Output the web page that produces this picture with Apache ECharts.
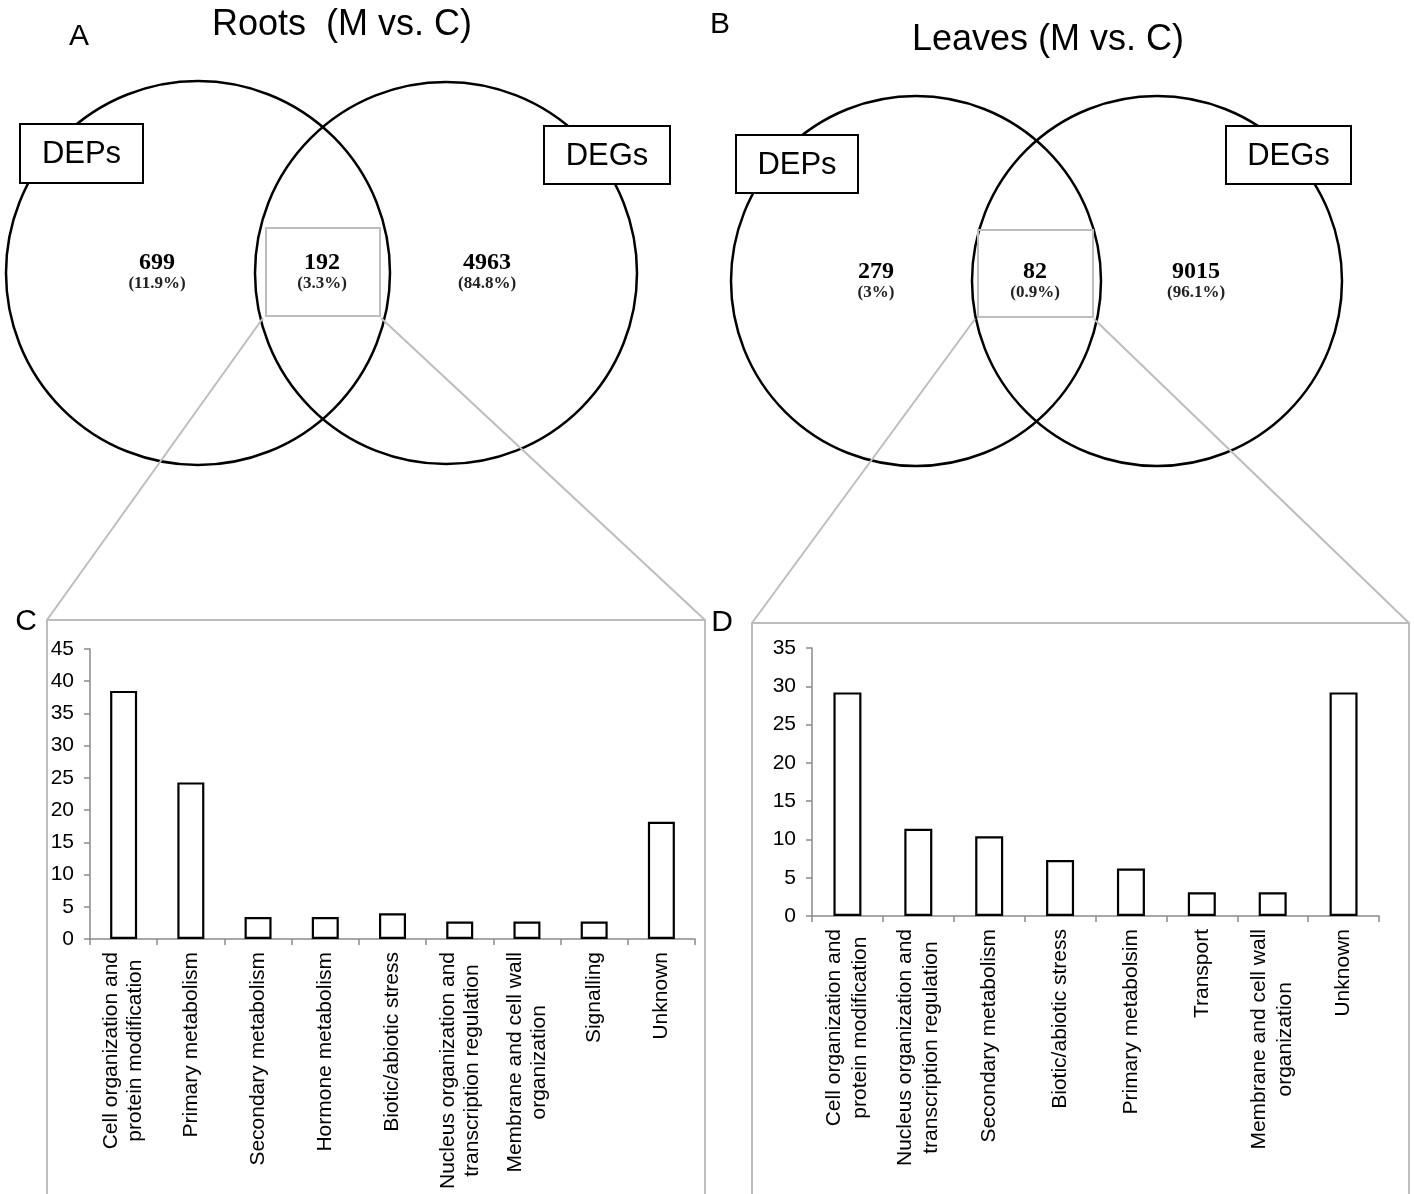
<!DOCTYPE html>
<html>
<head>
<meta charset="utf-8">
<title>Roots and Leaves (M vs. C): DEPs / DEGs overlap</title>
<script src="https://cdn.jsdelivr.net/npm/echarts@6/dist/echarts.min.js"></script>
<style>
  html, body { margin: 0; padding: 0; background: #fff; }
  #chart { width: 1414px; height: 1194px; }
</style>
</head>
<body>
<div id="chart"></div>
<script>
// ---- Data ----
const rootsTitle = 'Roots  (M vs. C)';
const leavesTitle = 'Leaves (M vs. C)';
const setNames = ['DEPs', 'DEGs'];

// Venn counts: [DEPs only, shared, DEGs only]
const rootsVennCounts = [699, 192, 4963];
const rootsVennPercents = ['(11.9%)', '(3.3%)', '(84.8%)'];
const leavesVennCounts = [279, 82, 9015];
const leavesVennPercents = ['(3%)', '(0.9%)', '(96.1%)'];

// Functional categories of the shared genes/proteins (%)
const rootsCategories = [
  'Cell organization and\nprotein modification',
  'Primary metabolism',
  'Secondary metabolism',
  'Hormone metabolism',
  'Biotic/abiotic stress',
  'Nucleus organization and\ntranscription regulation',
  'Membrane and cell wall\norganization',
  'Signalling',
  'Unknown'
];
const rootsValues = [38.5, 24.3, 3.4, 3.4, 4.0, 2.7, 2.7, 2.7, 18.2];

const leavesCategories = [
  'Cell organization and\nprotein modification',
  'Nucleus organization and\ntranscription regulation',
  'Secondary metabolism',
  'Biotic/abiotic stress',
  'Primary metabolsim',
  'Transport',
  'Membrane and cell wall\norganization',
  'Unknown'
];
const leavesValues = [29.2, 11.4, 10.4, 7.3, 6.2, 3.1, 3.1, 29.2];

const rootsAxisMax = 45;
const leavesAxisMax = 35;
const axisStep = 5;

// ---- Styling ----
const SANS = '"Liberation Sans", Arial, sans-serif';
const SERIF = '"Liberation Serif", "Times New Roman", serif';
const AXIS_GREY = '#8a8a8a';
const ZOOM_GREY = '#bdbdbd';

function centeredLines(v) {
  return v.split('\n').map(s => '{c|' + s + '}').join('\n');
}

function categoryAxis(gridIndex, cats, lineH) {
  return {
    type: 'category', gridIndex: gridIndex, data: cats,
    axisLine: { lineStyle: { color: AXIS_GREY, width: 1.5 } },
    axisTick: { show: true, alignWithLabel: false, length: 6, lineStyle: { color: AXIS_GREY, width: 1.5 } },
    axisLabel: {
      interval: 0, rotate: 90, margin: 13, color: '#000',
      fontFamily: SANS, fontSize: 21,
      formatter: centeredLines,
      rich: { c: { align: 'center', fontFamily: SANS, fontSize: 21, lineHeight: lineH, color: '#000' } }
    },
    splitLine: { show: false }
  };
}

function valueAxis(gridIndex, max) {
  return {
    type: 'value', gridIndex: gridIndex, min: 0, max: max, interval: axisStep,
    axisLine: { show: true, lineStyle: { color: AXIS_GREY, width: 1.5 } },
    axisTick: { show: true, length: 6, lineStyle: { color: AXIS_GREY, width: 1.5 } },
    axisLabel: { color: '#000', fontFamily: SANS, fontSize: 21, margin: 16 },
    splitLine: { show: false }
  };
}

function barSeries(axisIndex, values, width) {
  return {
    type: 'bar', xAxisIndex: axisIndex, yAxisIndex: axisIndex, data: values,
    barWidth: width, silent: true,
    itemStyle: { color: '#fff', borderColor: '#000', borderWidth: 2.2 }
  };
}

// ---- Venn diagram pieces ----
function venn(cfg) {
  const els = [];
  // set circles
  cfg.circles.forEach(c => {
    els.push({ type: 'circle', z: 1, shape: { cx: c[0], cy: c[1], r: c[2] },
      style: { fill: 'none', stroke: '#000', lineWidth: 2.5 } });
  });
  // box around the shared region and the lines leading to the bar panel
  const b = cfg.box;
  els.push({ type: 'rect', z: 2, shape: { x: b[0], y: b[1], width: b[2] - b[0], height: b[3] - b[1] },
    style: { fill: 'none', stroke: ZOOM_GREY, lineWidth: 2 } });
  const f = cfg.frame;
  els.push({ type: 'line', z: 2, shape: { x1: b[0] - 3, y1: b[3] + 2, x2: f[0], y2: f[1] },
    style: { stroke: ZOOM_GREY, lineWidth: 2 } });
  els.push({ type: 'line', z: 2, shape: { x1: b[2] + 1, y1: b[3] + 2, x2: f[2], y2: f[1] },
    style: { stroke: ZOOM_GREY, lineWidth: 2 } });
  els.push({ type: 'rect', z: 0, shape: { x: f[0], y: f[1], width: f[2] - f[0], height: 700 },
    style: { fill: 'none', stroke: ZOOM_GREY, lineWidth: 2 } });
  // set name boxes
  cfg.nameBoxes.forEach((r, i) => {
    els.push({ type: 'rect', z: 3, shape: { x: r[0], y: r[1], width: r[2] - r[0], height: r[3] - r[1] },
      style: { fill: '#fff', stroke: '#000', lineWidth: 2 } });
    els.push({ type: 'text', z: 4, x: (r[0] + r[2]) / 2, y: (r[1] + r[3]) / 2 + 1,
      style: { text: setNames[i], font: '31px ' + SANS, fill: '#000', align: 'center', verticalAlign: 'middle' } });
  });
  // region counts and percentages
  cfg.countX.forEach((x, i) => {
    els.push({ type: 'text', z: 4, x: x, y: cfg.countY,
      style: { text: String(cfg.counts[i]), font: 'bold 24px ' + SERIF, fill: '#000', align: 'center', verticalAlign: 'middle' } });
    els.push({ type: 'text', z: 4, x: x, y: cfg.countY + 21,
      style: { text: cfg.percents[i], font: 'bold 17px ' + SERIF, fill: '#222', align: 'center', verticalAlign: 'middle' } });
  });
  // title
  els.push({ type: 'text', z: 4, x: cfg.title[1], y: cfg.title[2],
    style: { text: cfg.title[0], font: '36px ' + SANS, fill: '#000', align: 'center', verticalAlign: 'middle' } });
  return els;
}

function panelLetter(letter, x, y) {
  return { type: 'text', z: 4, x: x, y: y,
    style: { text: letter, font: '30px ' + SANS, fill: '#000', align: 'center', verticalAlign: 'middle' } };
}

const graphics = []
  .concat(venn({
    circles: [[198, 273, 192], [446, 273, 191]],
    box: [266, 228, 380, 316],
    frame: [47, 620, 705],
    nameBoxes: [[20, 124, 143, 183], [544, 126, 670, 184]],
    counts: rootsVennCounts, percents: rootsVennPercents,
    countX: [157, 322, 487], countY: 263,
    title: [rootsTitle, 342, 25]
  }))
  .concat(venn({
    circles: [[916, 281, 185], [1157, 281, 185]],
    box: [978, 230, 1093, 317],
    frame: [752, 623, 1409],
    nameBoxes: [[736, 135, 858, 193], [1226, 126, 1351, 184]],
    counts: leavesVennCounts, percents: leavesVennPercents,
    countX: [876, 1035, 1196], countY: 272,
    title: [leavesTitle, 1048, 40]
  }))
  .concat([
    panelLetter('A', 79, 37),
    panelLetter('B', 720, 25),
    panelLetter('C', 26, 622),
    panelLetter('D', 722, 623)
  ]);

const chart = echarts.init(document.getElementById('chart'), null, { renderer: 'canvas' });
chart.setOption({
  animation: false,
  backgroundColor: '#fff',
  grid: [
    { left: 90, right: 1414 - 695, top: 649, bottom: 1194 - 939, containLabel: false },
    { left: 812, right: 1414 - 1379, top: 648, bottom: 1194 - 916, containLabel: false }
  ],
  xAxis: [categoryAxis(0, rootsCategories, 24), categoryAxis(1, leavesCategories, 26)],
  yAxis: [valueAxis(0, rootsAxisMax), valueAxis(1, leavesAxisMax)],
  series: [barSeries(0, rootsValues, 27), barSeries(1, leavesValues, 28)],
  graphic: graphics
});
</script>
</body>
</html>
